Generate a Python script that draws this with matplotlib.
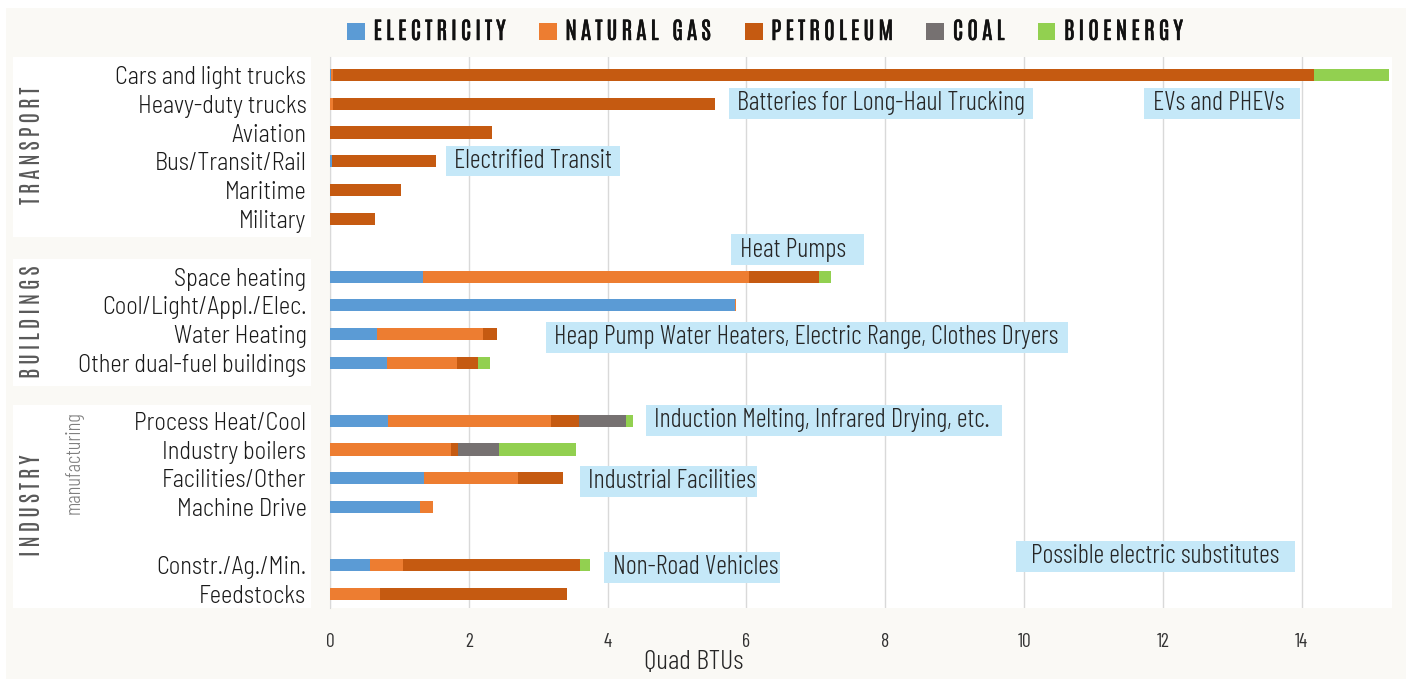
import matplotlib
matplotlib.use("Agg")
import matplotlib.pyplot as plt
import matplotlib.patheffects as pe
from matplotlib.patches import Rectangle, Patch

plt.rcParams['font.family'] = ['Barlow Condensed', 'DejaVu Sans']
SEMI = ['Barlow Semi Condensed', 'DejaVu Sans']
TALL = ['Antonio', 'Barlow Condensed', 'DejaVu Sans']

# rows top to bottom, blank strings are the gaps between sectors
categories = ["Cars and light trucks", "Heavy-duty trucks", "Aviation", "Bus/Transit/Rail",
              "Maritime", "Military", "",
              "Space heating", "Cool/Light/Appl./Elec.", "Water Heating", "Other dual-fuel buildings", "",
              "Process Heat/Cool", "Industry boilers", "Facilities/Other", "Machine Drive", "",
              "Constr./Ag./Min.", "Feedstocks"]

electricity = [0.02, 0, 0, 0.03, 0, 0, 0, 1.34, 5.83, 0.67, 0.82, 0, 0.83, 0, 1.36, 1.30, 0, 0.57, 0]
natural_gas = [0.02, 0.05, 0, 0, 0, 0, 0, 4.70, 0.02, 1.54, 1.01, 0, 2.36, 1.74, 1.35, 0.18, 0, 0.48, 0.72]
petroleum = [14.13, 5.49, 2.33, 1.50, 1.03, 0.65, 0, 1.00, 0, 0.19, 0.30, 0, 0.40, 0.11, 0.65, 0, 0, 2.55, 2.69]
coal = [0, 0, 0, 0, 0, 0, 0, 0, 0, 0, 0, 0, 0.68, 0.58, 0, 0, 0, 0, 0]
bioenergy = [1.08, 0, 0, 0, 0, 0, 0, 0.18, 0, 0, 0.18, 0, 0.10, 1.11, 0, 0, 0, 0.15, 0]

series_names = ["ELECTRICITY", "NATURAL GAS", "PETROLEUM", "COAL", "BIOENERGY"]
series_colors = ["#5B9BD5", "#ED7D31", "#C55A11", "#767171", "#92D050"]

# callout boxes: text, box left, box right (Quad BTUs), row centre, text alignment
callouts = [
    ("Batteries for Long-Haul Trucking", 5.75, 10.13, 0.99, "left"),
    ("EVs and PHEVs", 11.73, 13.97, 0.99, "left"),
    ("Electrified Transit", 1.67, 4.18, 2.99, "left"),
    ("Heat Pumps", 5.78, 7.69, 6.06, "left"),
    ("Heap Pump Water Heaters, Electric Range, Clothes Dryers", 3.11, 10.63, 9.11, "left"),
    ("Induction Melting, Infrared Drying, etc.", 4.55, 9.68, 11.99, "left"),
    ("Industrial Facilities", 3.60, 6.15, 14.11, "left"),
    ("Non-Road Vehicles", 3.95, 6.48, 17.09, "left"),
    ("Possible electric substitutes", 9.88, 13.90, 16.71, "center"),
]

W, H = 1406, 679
BG = "#FAF9F5"


def fx(px):
    return px / W


def fy(py):
    return 1 - py / H


def spaced(s):
    return "\u2006".join(s)


fig = plt.figure(figsize=(W / 100, H / 100), dpi=100, facecolor=BG)
# thin white strips along the left and top edges
fig.add_artist(Rectangle((0, 0), fx(6), 1, transform=fig.transFigure,
                         facecolor="white", edgecolor="none", zorder=-1))
fig.add_artist(Rectangle((0, fy(8)), 1, 1 - fy(8), transform=fig.transFigure,
                         facecolor="white", edgecolor="none", zorder=-1))

# white panels behind the row labels
for top, bottom in [(57, 237), (259, 386), (405, 608)]:
    fig.add_artist(Rectangle((fx(13), fy(bottom)), fx(311) - fx(13), fy(top) - fy(bottom),
                             transform=fig.transFigure, facecolor="white", edgecolor="none", zorder=0))

ax = fig.add_axes([fx(330), fy(608), fx(1392) - fx(330), fy(57) - fy(608)])
ax.set_facecolor("white")

y = list(range(len(categories)))
left = [0.0] * len(categories)
for name, vals, col in zip(series_names, [electricity, natural_gas, petroleum, coal, bioenergy], series_colors):
    ax.barh(y, vals, left=left, height=0.42, color=col, linewidth=0, zorder=3)
    left = [a + b for a, b in zip(left, vals)]

ax.set_xlim(0, 15.3)
ax.set_ylim(18.5, -0.62)
ax.set_xticks(range(0, 16, 2))
ax.set_yticks(y)
ax.set_yticklabels(categories, fontsize=17.5, color="#1a1a1a", fontweight=300, family=SEMI)
ax.tick_params(axis="y", length=0, pad=17)
ax.tick_params(axis="x", length=0, pad=18, labelsize=14, labelcolor="#333333")
ax.grid(axis="x", color="#D9D9D9", lw=1, zorder=0)
for s in ["top", "right", "bottom"]:
    ax.spines[s].set_visible(False)
ax.spines["left"].set_color("#D9D9D9")

box_h = 1.07
for text, x0, x1, row, align in callouts:
    ax.add_patch(Rectangle((x0, row - box_h / 2), x1 - x0, box_h, facecolor="#C5E8F8",
                           edgecolor="none", zorder=4))
    tx = x0 + 0.12 if align == "left" else (x0 + x1) / 2
    ax.text(tx, row, text, ha=align, va="center", fontsize=19, color="#262626", zorder=5,
            fontweight=300)

fig.text(fx(694), fy(662), "Quad BTUs", ha="center", va="center", fontsize=20, color="#262626",
         fontweight=300)

# sector labels
for label, yc in [("TRANSPORT", 145), ("BUILDINGS", 322), ("INDUSTRY", 505)]:
    fig.text(fx(31), fy(yc), spaced(label), rotation=90, ha="center", va="center",
             fontsize=16.5, color="#595959", family=TALL)
fig.text(fx(74), fy(463), "manufacturing", rotation=90, ha="center", va="center",
         fontsize=15, color="#7F7F7F", fontweight=300)

handles = [Patch(facecolor=c, edgecolor="none") for c in series_colors]
leg = fig.legend(handles, [spaced(n) for n in series_names], loc="center",
                 bbox_to_anchor=(fx(765), fy(31)), ncol=5, frameon=False,
                 handlelength=0.76, handleheight=0.76, handletextpad=0.36,
                 columnspacing=1.4, prop={"family": TALL, "size": 17})
for t in leg.get_texts():
    t.set_color("#111111")
    t.set_path_effects([pe.withStroke(linewidth=0.35, foreground="#111111")])

fig.savefig("out.png", dpi=100, facecolor=BG)
